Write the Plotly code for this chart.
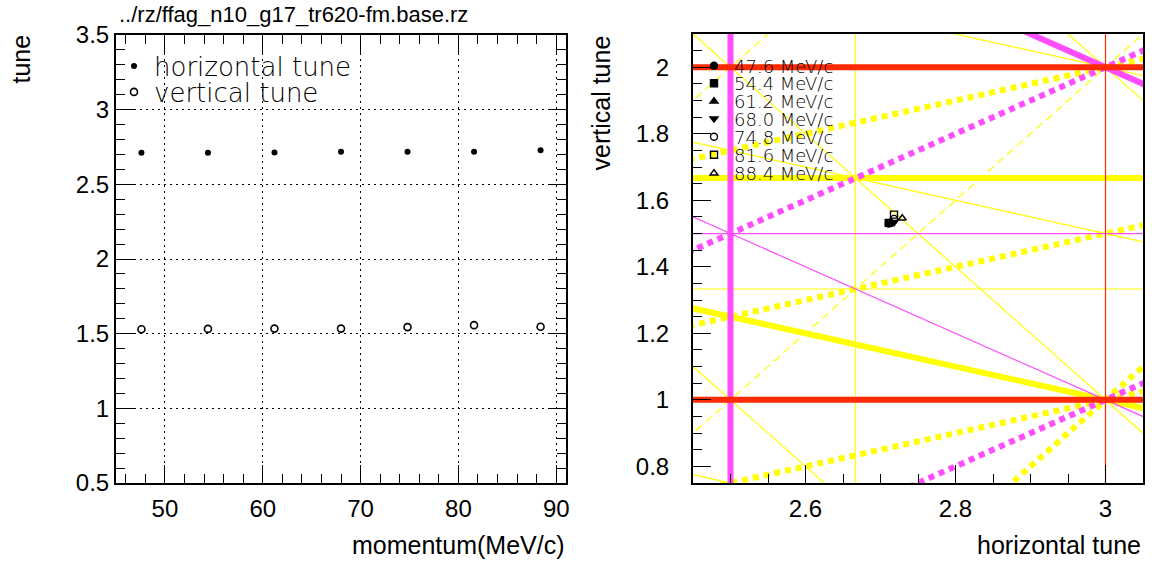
import plotly.graph_objects as go

# ---- data -------------------------------------------------------------
momentum = [47.6, 54.4, 61.2, 68.0, 74.8, 81.6, 88.4]          # MeV/c
tune_h = [2.711, 2.711, 2.713, 2.718, 2.718, 2.718, 2.729]      # horizontal tune
tune_v = [1.530, 1.532, 1.534, 1.534, 1.544, 1.557, 1.546]      # vertical tune

# resonance lines  a*nu_x + b*nu_y = m
res_a = [3, 0, 0, 1, 1, 1, 1, 2, 2, 2, 1, 1, 1, 2, 2, 2,
         2, 0, 1, 1, 1, 1,
         0, 0, 1]
res_b = [0, 3, 3, 2, 2, 2, 2, 1, 1, 1, -2, -2, -2, -1, -1, -1,
         0, 2, 1, 1, -1, -1,
         1, 1, 0]
res_m = [8, 5, 4, 4, 5, 6, 7, 6, 7, 8, -1, 0, 1, 3, 4, 5,
         5, 3, 4, 5, 1, 2,
         1, 2, 3]
res_style = ["thin", "thick", "thin", "thin", "thick", "thin", "thin", "thin", "thin", "thin",
             "dot", "dot", "dot", "dash", "dash", "dot",
             "thick", "thin", "thin", "thick", "dot", "dot",
             "thick", "thick", "thin"]

# ---- styling ----------------------------------------------------------
ORDER_COLOR = {1: "#ff2a00", 2: "#ff4dff", 3: "#ffff00"}
LINE_STYLE = {
    "thick": dict(width=6, dash="solid"),
    "thin": dict(width=1.2, dash="solid"),
    "dot": dict(width=6, dash="6px,5px"),
    "dash": dict(width=1.2, dash="8px,5px"),
}
SYMBOLS = ["circle", "square", "triangle-up", "triangle-down",
           "circle-open", "square-open", "triangle-up-open"]

W, H = 1152, 562
TXT = "Liberation Sans, Arial, sans-serif"
LEG = "DejaVu Sans, sans-serif"

X_SPAN = (2.0, 3.6)
Y_SPAN = (0.4, 2.6)


def line_points(a, b, m):
    if b == 0:
        return [m / a, m / a], list(Y_SPAN)
    return list(X_SPAN), [(m - a * x) / b for x in X_SPAN]


def px_x(p):
    return p / W


def px_y(p):
    return 1 - p / H


fig = go.Figure()

# ---- left panel: tune vs momentum --------------------------------------
fig.add_trace(go.Scatter(x=momentum, y=tune_h, mode="markers", name="horizontal tune",
                         marker=dict(symbol="circle", size=6, color="black"),
                         xaxis="x", yaxis="y", legend="legend"))
fig.add_trace(go.Scatter(x=momentum, y=tune_v, mode="markers", name="vertical tune",
                         marker=dict(symbol="circle-open", size=7, color="black",
                                     line=dict(width=1.6, color="black")),
                         xaxis="x", yaxis="y", legend="legend2"))

# ---- right panel: tune diagram ----------------------------------------
for order in (3, 2, 1):
    for a, b, m, st in zip(res_a, res_b, res_m, res_style):
        if abs(a) + abs(b) != order:
            continue
        xs, ys = line_points(a, b, m)
        fig.add_trace(go.Scatter(x=xs, y=ys, mode="lines", showlegend=False, hoverinfo="skip",
                                 line=dict(color=ORDER_COLOR[order], **LINE_STYLE[st]),
                                 xaxis="x2", yaxis="y2"))

for i, p in enumerate(momentum):
    fig.add_trace(go.Scatter(x=[tune_h[i]], y=[tune_v[i]], mode="markers",
                             name=f"{p:.1f} MeV/c",
                             marker=dict(symbol=SYMBOLS[i], size=7, color="black",
                                         line=dict(width=1.4, color="black")),
                             xaxis="x2", yaxis="y2", legend=f"legend{i + 3}"))

# ---- axes ------------------------------------------------------------------
tick_font = dict(family=TXT, size=24, color="black")
common = dict(showline=True, linecolor="black", linewidth=2, ticks="inside",
              tickcolor="black", tickwidth=1, tickfont=tick_font, zeroline=False)

fig.update_layout(
    xaxis=dict(domain=[px_x(116), px_x(566)], range=[45, 91], anchor="y",
               dtick=10, tick0=0, ticklen=18, mirror="allticks",
               minor=dict(ticks="inside", dtick=2, ticklen=9, tickcolor="black", showgrid=False),
               showgrid=True, gridcolor="black", gridwidth=1, griddash="2px,4px",
               ticklabelstandoff=3, **common),
    yaxis=dict(domain=[px_y(483), px_y(35)], range=[0.5, 3.5], anchor="x",
               dtick=0.5, tick0=0, ticklen=18, mirror="allticks",
               minor=dict(ticks="inside", dtick=0.1, ticklen=9, tickcolor="black", showgrid=False),
               showgrid=True, gridcolor="black", gridwidth=1, griddash="2px,4px",
               ticklabelstandoff=0, **common),
    xaxis2=dict(domain=[px_x(693), px_x(1143)], range=[2.45, 3.05], anchor="y2",
                dtick=0.2, tick0=0, ticklen=18, mirror=True, showgrid=False,
                minor=dict(ticks="inside", dtick=0.05, ticklen=9, tickcolor="black", showgrid=False),
                ticklabelstandoff=3, **common),
    yaxis2=dict(domain=[px_y(483), px_y(34)], range=[0.75, 2.1], anchor="x2",
                dtick=0.2, tick0=0, ticklen=18, mirror=True, showgrid=False,
                minor=dict(ticks="inside", dtick=0.05, ticklen=9, tickcolor="black", showgrid=False),
                ticklabelstandoff=17, **common),
)

# ---- legends -----------------------------------------------------------------
def legend_box(x_left, y_center, size):
    return dict(x=px_x(x_left), y=px_y(y_center), xanchor="left", yanchor="middle",
                bgcolor="rgba(0,0,0,0)", borderwidth=0, itemwidth=30,
                font=dict(family=LEG, size=size, color="black", weight=200))

legend_layout = {"legend": legend_box(114, 66, 26), "legend2": legend_box(114, 92, 26)}
right_rows = [66, 83.5, 101.5, 119, 137, 155, 173.5]
for i, yc in enumerate(right_rows):
    legend_layout[f"legend{i + 3}"] = legend_box(694, yc, 18)
fig.update_layout(**legend_layout)

# ---- titles --------------------------------------------------------------------
title_font = dict(family=TXT, size=22, color="black")
axis_title_font = dict(family=TXT, size=25, color="black")
annotations = [
    dict(text="../rz/ffag_n10_g17_tr620-fm.base.rz", x=px_x(117), y=px_y(15),
         xanchor="left", yanchor="middle", font=title_font),
    dict(text="tune", x=px_x(21), y=px_y(33), xanchor="center", yanchor="top", textangle=-90,
         font=axis_title_font),
    dict(text="momentum(MeV/c)", x=px_x(567), y=px_y(545), xanchor="right", yanchor="middle",
         font=axis_title_font),
    dict(text="vertical tune", x=px_x(600), y=px_y(34), xanchor="center", yanchor="top",
         textangle=-90, font=axis_title_font),
    dict(text="horizontal tune", x=px_x(1143), y=px_y(545), xanchor="right", yanchor="middle",
         font=axis_title_font),
]
for ann in annotations:
    ann.update(xref="paper", yref="paper", showarrow=False)

fig.update_layout(annotations=annotations, width=W, height=H,
                  margin=dict(l=0, r=0, t=0, b=0, autoexpand=False),
                  paper_bgcolor="white", plot_bgcolor="white", hovermode=False)

fig.write_html("out.html", config={"displayModeBar": False})
